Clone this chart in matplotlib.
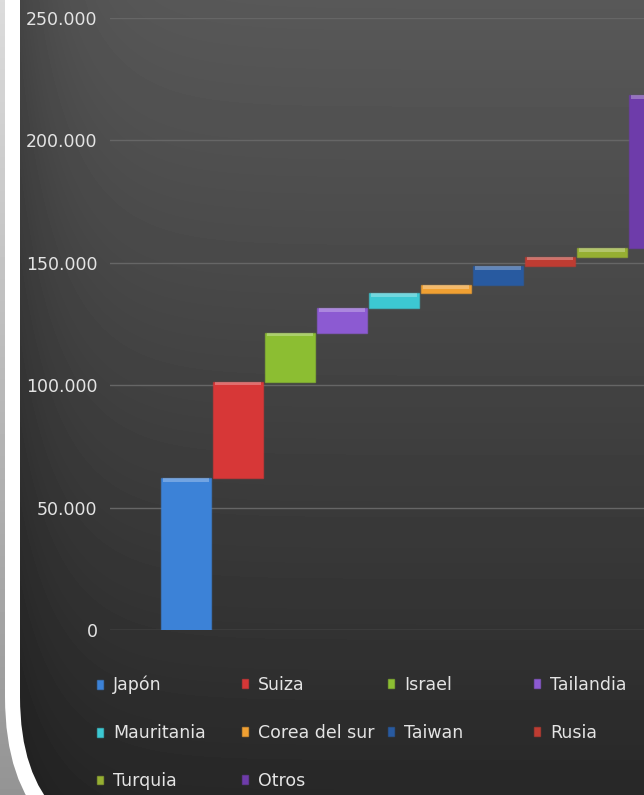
import numpy as np
import matplotlib
matplotlib.use("Agg")
import matplotlib.pyplot as plt
from matplotlib.patches import FancyBboxPatch

# datos (exportaciones por destino, cascada acumulada)
paises = ["Japón", "Suiza", "Israel", "Tailandia", "Mauritania",
          "Corea del sur", "Taiwan", "Rusia", "Turquia", "Otros"]
valores = [62000, 39500, 20000, 10000, 6000, 3500, 7500, 4000, 3500, 62500]
colores = ["#3c82d7", "#d73737", "#8cbe32", "#8c5ad2", "#3cc8d2",
           "#f0a032", "#285aa0", "#be3c32", "#96af32", "#6e3caa"]
yticks = [0, 50000, 100000, 150000, 200000, 250000]

W, H = 644, 795
fig = plt.figure(figsize=(W / 100, H / 100), dpi=100)

# --- fondo tipo diapositiva ---
bg = fig.add_axes([0, 0, 1, 1], zorder=0)
bg.set_xlim(0, W)
bg.set_ylim(H, 0)
bg.axis("off")

yy = np.linspace(0, 1, H)[:, None]
xx = np.linspace(0, 1, W)[None, :]
exterior = 0.86 - 0.28 * yy + 0 * xx
bg.imshow(exterior, cmap="gray", vmin=0, vmax=1, extent=(0, W, H, 0),
          aspect="auto", interpolation="bilinear", zorder=0)

borde = FancyBboxPatch((5, -300), 1200, 1167, boxstyle="round,pad=0,rounding_size=170",
                       facecolor="white", edgecolor="none", zorder=0.5)
bg.add_patch(borde)

panel = FancyBboxPatch((20, -300), 1200, 1152, boxstyle="round,pad=0,rounding_size=155",
                       facecolor="none", edgecolor="none", zorder=0.4)
bg.add_patch(panel)
px = np.arange(W)[None, :]
oscuro = (0.345 - 0.19 * yy ** 1.1) * (1 - 0.22 * np.exp(-(px - 20) / 50.0))
img = bg.imshow(oscuro, cmap="gray", vmin=0, vmax=1, extent=(0, W, H, 0),
                aspect="auto", interpolation="bilinear", zorder=0.8)
img.set_clip_path(panel)

# --- grafico de cascada ---
ax = fig.add_axes([110 / W, 1 - 630 / H, (W - 110) / W, (630 - 18) / H], zorder=2)
ax.set_facecolor("none")
x = np.arange(len(paises))
vals = np.array(valores, dtype=float)
tops = np.cumsum(vals)
bottoms = tops - vals

barras = ax.bar(x, vals, bottom=bottoms, width=0.98, color=colores,
                edgecolor=[matplotlib.colors.to_rgba(c, 0.6) for c in colores],
                linewidth=1, zorder=3)
# brillo superior (efecto bisel)
hl = np.minimum(1500, vals * 0.45)
ax.bar(x, hl, bottom=tops - hl, width=0.9, color="white", alpha=0.28,
       linewidth=0, zorder=4)

ax.set_xlim(-(186 - 110) / 52, (W - 186) / 52)
ax.set_ylim(0, 250000)
ax.set_yticks(yticks)
ax.set_yticklabels([f"{v:,.0f}".replace(",", ".") for v in yticks])
ax.set_xticks([])
ax.tick_params(axis="y", length=0, pad=9, labelsize=12.5, labelcolor="#e4e4e4")
ax.yaxis.grid(True, color="#666666", linewidth=1)
ax.set_axisbelow(True)
for s in ax.spines.values():
    s.set_visible(False)

# --- leyenda en 4 columnas ---
columnas = [[0, 4, 8], [1, 5, 9], [2, 6], [3, 7]]
xcols = [100, 245, 391, 537]
for idx, xc in zip(columnas, xcols):
    fig.legend([barras.patches[i] for i in idx], [paises[i] for i in idx],
               loc="upper left", bbox_to_anchor=((xc - 3.5) / W, 1 - 676 / H),
               bbox_transform=fig.transFigure, frameon=False, borderpad=0,
               borderaxespad=0, handlelength=0.4, handleheight=0.4,
               handletextpad=0.55, labelspacing=1.72, fontsize=12.5,
               labelcolor="#e4e4e4")

fig.savefig("out.png", dpi=100)
